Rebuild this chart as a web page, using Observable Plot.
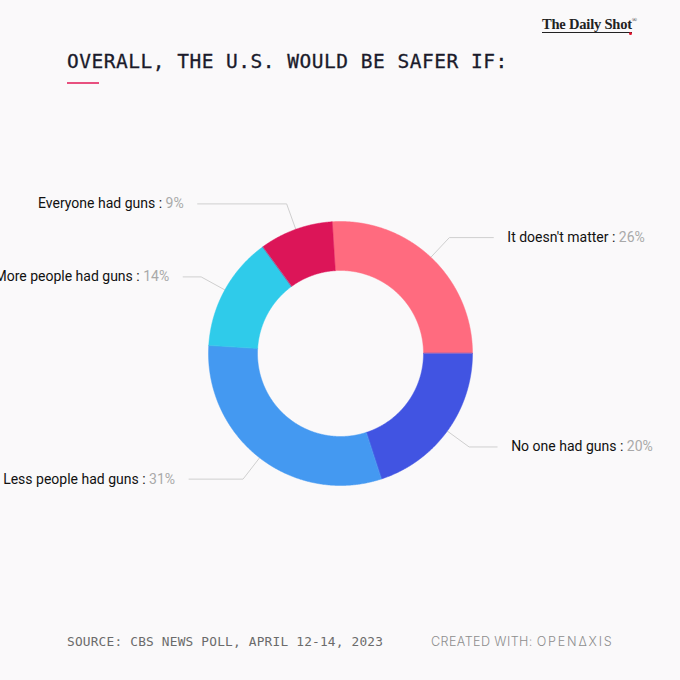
<!DOCTYPE html>
<html>
<head>
<meta charset="utf-8">
<script src="https://cdn.jsdelivr.net/npm/d3@7"></script>
<script src="https://cdn.jsdelivr.net/npm/@observablehq/plot@0.6"></script>
<style>
  html, body { margin: 0; padding: 0; background: #faf9fa; }
  #wrap { position: relative; width: 680px; height: 680px; overflow: hidden; background: #faf9fa; }
  #chart { position: absolute; left: 0; top: 0; }
  .title { position: absolute; left: 67px; top: 50px; font-family: "DejaVu Sans Mono", "Liberation Mono", monospace; font-size: 19.5px; letter-spacing: 0.5px; color: #1b1b2b; white-space: nowrap; -webkit-text-stroke: 0.3px #1b1b2b; }
  .rule { position: absolute; left: 67px; top: 82px; width: 32px; height: 2px; background: #e8507f; }
  .logo { position: absolute; left: 542px; top: 16px; font-family: "Liberation Serif", "DejaVu Serif", serif; font-size: 14.5px; font-weight: 700; color: #222; white-space: nowrap; letter-spacing: -0.2px; }
  .logo span.u { border-bottom: 1px solid #222; padding-bottom: 0px; }
  .logo sup { font-size: 7px; font-weight: 400; position: relative; top: -1px; }
  .logo .dot { position: absolute; left: 87px; top: 16px; width: 3px; height: 3px; border-radius: 2px; background: #e0102a; }
  .source { position: absolute; left: 67px; top: 634px; font-family: "DejaVu Sans Mono", "Liberation Mono", monospace; font-size: 12.8px; color: #6b6b6b; white-space: nowrap; letter-spacing: 0.2px; }
  .created { position: absolute; left: 431px; top: 634px; font-family: "Inter", "Noto Sans", sans-serif; font-size: 12.6px; font-weight: 300; color: #8e8e8e; white-space: nowrap; letter-spacing: 0.4px; }
  .created b { font-weight: 300; letter-spacing: 1.8px; }
</style>
</head>
<body>
<div id="wrap">
  <div id="chart"></div>
  <div class="title">OVERALL, THE U.S. WOULD BE SAFER IF:</div>
  <div class="rule"></div>
  <div class="logo"><span class="u">The Daily Shot</span><sup>®</sup><div class="dot"></div></div>
  <div class="source">SOURCE: CBS NEWS POLL, APRIL 12-14, 2023</div>
  <div class="created">CREATED WITH: <b>OPENΔXIS</b></div>
</div>
<script>
// ---- data ----
const categories = ["It doesn't matter", "No one had guns", "Less people had guns", "More people had guns", "Everyone had guns"];
const values = [26, 20, 31, 14, 9];
const colors = ["#ff6b7f", "#4154e2", "#4499f1", "#2fcbea", "#dc1558"];
// layout: horizontal leader length per label
const leaderLen = [44, 28, 54, 18, 89];

// ---- layout constants ----
const W = 680, H = 680;
const cx = 340, cy = 353, rOuter = 132, rInner = 83, rElbow = 159, gap = 14;

const pie = d3.pie().sort(null).value(d => d.value)
  .startAngle(-Math.PI * 2 * 0.01).endAngle(Math.PI * 2 * 0.99);
const arcs = pie(categories.map((c, i) => ({key: c, value: values[i], i})));

const pt = (r, a) => [cx + r * Math.sin(a), cy - r * Math.cos(a)];

// slice polygons
const slicePts = [];
for (const a of arcs) {
  const n = Math.max(8, Math.ceil((a.endAngle - a.startAngle) / 0.005));
  for (let k = 0; k <= n; k++) {
    const t = a.startAngle + (a.endAngle - a.startAngle) * k / n;
    const [x, y] = pt(rOuter, t);
    slicePts.push({key: a.data.key, x, y});
  }
  for (let k = n; k >= 0; k--) {
    const t = a.startAngle + (a.endAngle - a.startAngle) * k / n;
    const [x, y] = pt(rInner, t);
    slicePts.push({key: a.data.key, x, y});
  }
}

// leader lines and labels
const leaderPts = [];
const labels = [];
arcs.forEach((a, i) => {
  const m = (a.startAngle + a.endAngle) / 2;
  const right = Math.sin(m) >= 0;
  const p0 = pt(rOuter, m), p1 = pt(rElbow, m);
  const p2 = [p1[0] + (right ? 1 : -1) * leaderLen[i], p1[1]];
  [p0, p1, p2].forEach(p => leaderPts.push({key: a.data.key, x: p[0], y: p[1]}));
  labels.push({
    x: p2[0] + (right ? gap : -gap), y: p2[1],
    anchor: right ? "start" : "end",
    text: `${a.data.key} : ${a.data.value}%`
  });
});

const plot = Plot.plot({
  width: W, height: H, margin: 0,
  style: {background: "transparent", overflow: "visible"},
  x: {domain: [0, W], range: [0, W], axis: null},
  y: {domain: [0, H], range: [0, H], axis: null},
  color: {domain: categories, range: colors},
  marks: [
    Plot.line(leaderPts, {x: "x", y: "y", z: "key", stroke: "#cfcfcf", strokeWidth: 1}),
    Plot.line(slicePts, {x: "x", y: "y", z: "key", fill: "key", stroke: "key", strokeWidth: 0.5, curve: "linear-closed"}),
    Plot.text(labels.filter(d => d.anchor === "start"), {x: "x", y: "y", text: "text", textAnchor: "start", fontSize: 14, fill: "#111"}),
    Plot.text(labels.filter(d => d.anchor === "end"), {x: "x", y: "y", text: "text", textAnchor: "end", fontSize: 14, fill: "#111"})
  ]
});
plot.style.fontFamily = "Roboto, sans-serif";
// two-tone labels: name black, value gray
d3.select(plot).selectAll("g[aria-label='text'] text").each(function() {
  const s = this.textContent;
  const idx = s.lastIndexOf(" : ");
  if (idx < 0) return;
  const name = s.slice(0, idx + 3), val = s.slice(idx + 3);
  this.textContent = "";
  d3.select(this).append("tspan").attr("fill", "#111").text(name);
  d3.select(this).append("tspan").attr("fill", "#a9a9a9").text(val);
});
document.getElementById("chart").appendChild(plot);
</script>
</body>
</html>
